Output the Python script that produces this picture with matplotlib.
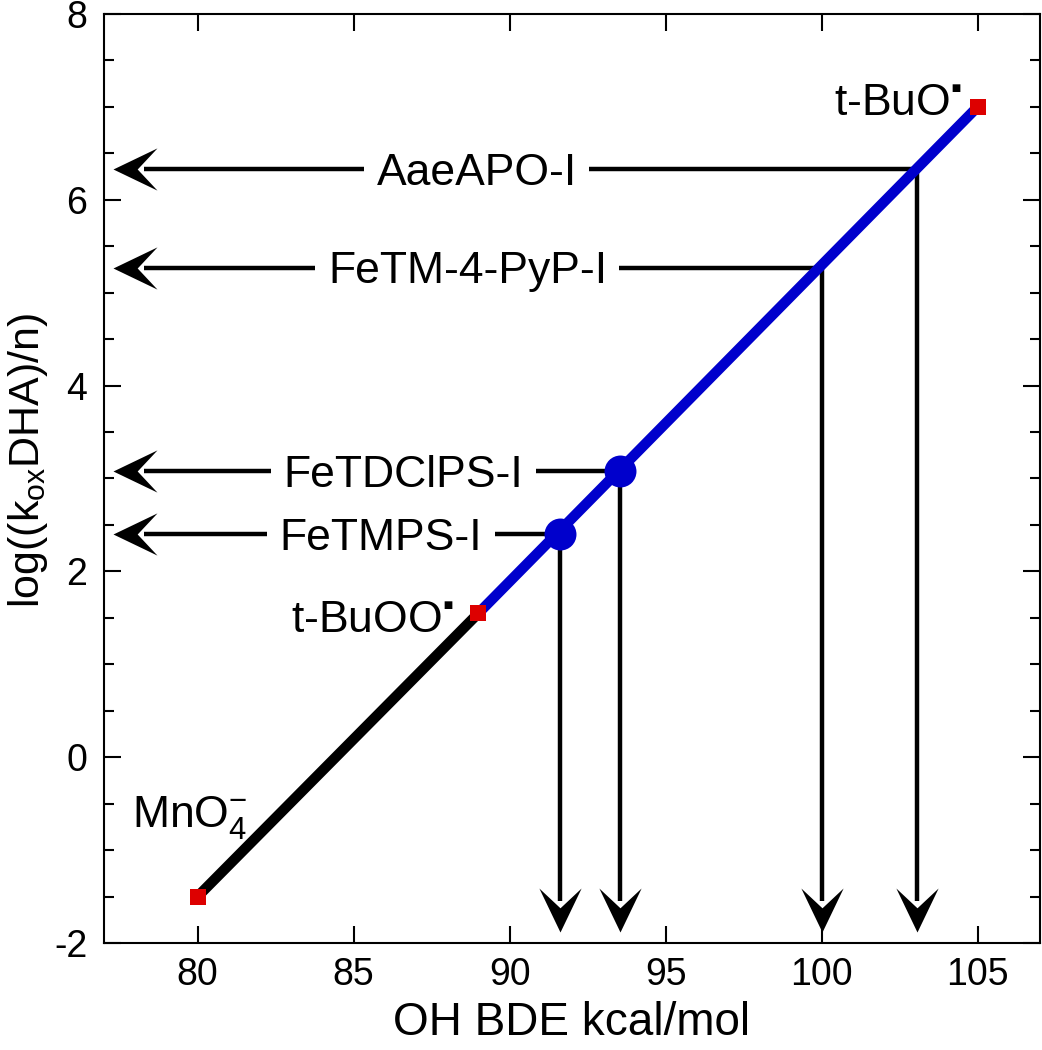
import matplotlib.pyplot as plt
from matplotlib.path import Path
from matplotlib.ticker import MultipleLocator

plt.rcParams['font.family'] = ['Liberation Sans', 'DejaVu Sans']
plt.rcParams['mathtext.fontset'] = 'custom'
plt.rcParams['mathtext.rm'] = 'Liberation Sans'
plt.rcParams['mathtext.it'] = 'Liberation Sans:italic'
plt.rcParams['mathtext.bf'] = 'Liberation Sans:bold'
plt.rcParams['axes.unicode_minus'] = False

# reference oxidants on the correlation line
ox_bde = [80, 89, 105]
ox_logk = [-1.5, 1.55, 7.0]
ox_names = ['MnO$_4^{-}$', 't-BuOO$^{\u25aa}$', 't-BuO$^{\u25aa}$']

# compound I species placed on the line
cpd_names = ['FeTMPS-I', 'FeTDClPS-I', 'FeTM-4-PyP-I', 'AaeAPO-I']
cpd_bde = [91.6, 93.55, 100.0, 103.05]
cpd_logk = [2.4, 3.08, 5.27, 6.33]
cpd_measured = [True, True, False, False]

x_ticks = [80, 85, 90, 95, 100, 105]
y_ticks = [-2, 0, 2, 4, 6, 8]

# where the text goes (data coords)
cpd_label_x = [85.87, 86.6, 88.65, 88.95]
ox_label_pos = [(77.9, -0.75, 'left'), (88.2, 1.35, 'right'), (104.5, 6.91, 'right')]

xlim = (77, 107)
ylim = (-2, 8)
arrow_x_end = 77.3
arrow_y_end = -1.88

fig = plt.figure(figsize=(10.42, 10.50), dpi=100)
ax = fig.add_axes([0.0998, 0.1019, 0.8983, 0.8848])
ax.set_xlim(*xlim)
ax.set_ylim(*ylim)

# stealth arrow heads as custom markers (tip at the origin)
w = 0.48
notch = 0.55
head_down = Path([(0, 0), (-w, 1), (0, notch), (w, 1), (0, 0)],
                 [Path.MOVETO, Path.LINETO, Path.LINETO, Path.LINETO, Path.CLOSEPOLY])
head_left = Path([(0, 0), (1, w), (notch, 0), (1, -w), (0, 0)],
                 [Path.MOVETO, Path.LINETO, Path.LINETO, Path.LINETO, Path.CLOSEPOLY])
head_len_px = 44
head_ms = 2 * head_len_px * 72 / fig.dpi

ax_w_px = 0.8983 * fig.get_figwidth() * fig.dpi
ax_h_px = 0.8848 * fig.get_figheight() * fig.dpi
px_x = ax_w_px / (xlim[1] - xlim[0])
px_y = ax_h_px / (ylim[1] - ylim[0])
shaft_dx = 0.7 * head_len_px / px_x
shaft_dy = 0.7 * head_len_px / px_y

for name, x0, y0, lx in zip(cpd_names, cpd_bde, cpd_logk, cpd_label_x):
    ax.plot([x0, arrow_x_end + shaft_dx], [y0, y0], color='black', lw=3.2, solid_capstyle='butt', zorder=2)
    ax.plot([arrow_x_end], [y0], marker=head_left, ms=head_ms, color='black', mew=0, zorder=2)
    ax.plot([x0, x0], [y0, arrow_y_end + shaft_dy], color='black', lw=3.2, solid_capstyle='butt', zorder=2)
    ax.plot([x0], [arrow_y_end], marker=head_down, ms=head_ms, color='black', mew=0, zorder=2)
    ax.text(lx, y0 - 0.17, name, fontsize=32, ha='center', va='baseline', zorder=3,
            bbox=dict(facecolor='white', edgecolor='none', pad=9))

# correlation line
ax.plot(ox_bde[:2], ox_logk[:2], color='black', lw=7.5, solid_capstyle='butt', zorder=4)
ax.plot(ox_bde[1:], ox_logk[1:], color='#0000cc', lw=7.5, solid_capstyle='butt', zorder=4)

for x0, y0, m in zip(cpd_bde, cpd_logk, cpd_measured):
    if m:
        ax.plot(x0, y0, 'o', ms=23, color='#0000cc', mew=0, zorder=5)

ax.plot(ox_bde, ox_logk, 's', ms=12, color='#dd0000', mew=0, zorder=6)

for name, (tx, ty, ha) in zip(ox_names, ox_label_pos):
    ax.text(tx, ty, name, fontsize=32, ha=ha, va='baseline', zorder=6)

ax.set_xticks(x_ticks)
ax.set_yticks(y_ticks)
ax.yaxis.set_minor_locator(MultipleLocator(0.5))
ax.tick_params(which='both', direction='in', top=True, right=True, width=1.5, labelsize=27)
ax.tick_params(axis='y', which='major', length=12, pad=12)
ax.tick_params(axis='y', which='minor', length=7)
ax.tick_params(axis='x', which='major', length=12, pad=10)
for s in ax.spines.values():
    s.set_linewidth(1.5)

ax.set_xlabel('OH BDE kcal/mol', fontsize=33, labelpad=6)
ax.set_ylabel('log((k$_{\\mathrm{ox}}$DHA)/n)', fontsize=31)
ax.yaxis.set_label_coords(-0.058, 0.52)

fig.savefig('out.png', dpi=100)
